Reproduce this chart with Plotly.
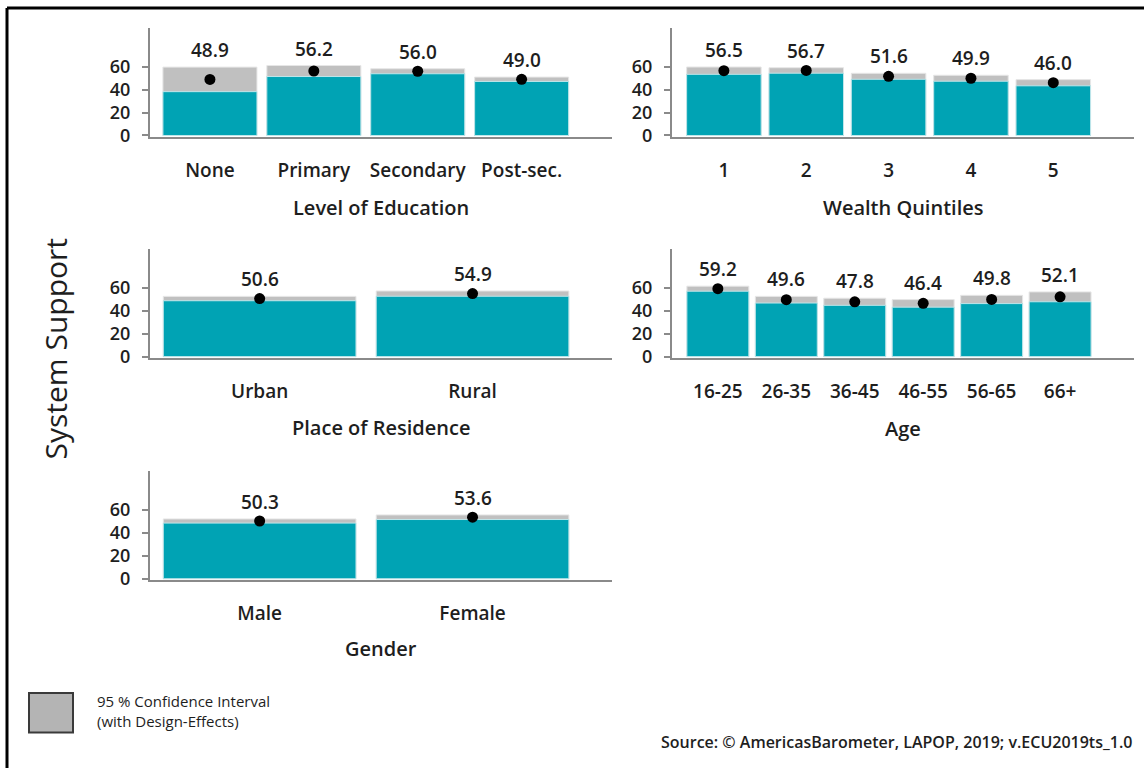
import plotly.graph_objects as go

W, H = 1144, 778

# ---------------- data ----------------
edu_cats = ["None", "Primary", "Secondary", "Post-sec."]
edu_mean = [48.9, 56.2, 56.0, 49.0]
edu_low = [38.2, 51.4, 53.8, 47.1]
edu_high = [59.6, 61.0, 58.2, 50.9]

wealth_cats = ["1", "2", "3", "4", "5"]
wealth_mean = [56.5, 56.7, 51.6, 49.9, 46.0]
wealth_low = [53.3, 54.3, 49.0, 47.3, 43.3]
wealth_high = [59.7, 59.1, 54.2, 52.5, 48.7]

res_cats = ["Urban", "Rural"]
res_mean = [50.6, 54.9]
res_low = [48.7, 52.6]
res_high = [52.5, 57.2]

age_cats = ["16-25", "26-35", "36-45", "46-55", "56-65", "66+"]
age_mean = [59.2, 49.6, 47.8, 46.4, 49.8, 52.1]
age_low = [57.0, 46.7, 44.7, 43.1, 46.2, 47.8]
age_high = [61.4, 52.5, 50.9, 49.7, 53.4, 56.4]

gen_cats = ["Male", "Female"]
gen_mean = [50.3, 53.6]
gen_low = [48.5, 51.6]
gen_high = [52.1, 55.6]

y_ticks = [0, 20, 40, 60]
titles = ["Level of Education", "Wealth Quintiles", "Place of Residence", "Age", "Gender"]

# ---------------- style ----------------
TEAL = "#00a3b4"
GRAY = "#c0c0c0"
AXIS = "#8a8a8a"
TXT = "#1e1e1e"
FONT = "Open Sans"

panels = [
    dict(cats=edu_cats, mean=edu_mean, low=edu_low, high=edu_high,
         px=(150, 612), py=(28, 139), xr=(-0.577, 3.87), title=titles[0], ty=210),
    dict(cats=wealth_cats, mean=wealth_mean, low=wealth_low, high=wealth_high,
         px=(672, 1134), py=(28, 139), xr=(-0.63, 4.98), title=titles[1], ty=210),
    dict(cats=res_cats, mean=res_mean, low=res_low, high=res_high,
         px=(150, 612), py=(252, 363), xr=(-0.515, 1.655), title=titles[2], ty=433),
    dict(cats=age_cats, mean=age_mean, low=age_low, high=age_high,
         px=(672, 1134), py=(252, 363), xr=(-0.67, 6.08), title=titles[3], ty=434),
    dict(cats=gen_cats, mean=gen_mean, low=gen_low, high=gen_high,
         px=(150, 612), py=(477, 588), xr=(-0.515, 1.655), title=titles[4], ty=657),
]

fig = go.Figure()
annotations = []
layout_axes = {}

for i, p in enumerate(panels, start=1):
    xa = "x" if i == 1 else f"x{i}"
    ya = "y" if i == 1 else f"y{i}"
    idx = list(range(len(p["cats"])))
    fig.add_trace(go.Bar(x=idx, y=p["high"], xaxis=xa, yaxis=ya,
                         marker=dict(color=GRAY, line=dict(color="#e6e6e6", width=1)),
                         showlegend=False, hoverinfo="skip"))
    fig.add_trace(go.Bar(x=idx, y=p["low"], xaxis=xa, yaxis=ya,
                         marker=dict(color=TEAL, line=dict(color="#bfe6ea", width=1)),
                         showlegend=False, hoverinfo="skip"))
    fig.add_trace(go.Scatter(x=idx, y=p["mean"], xaxis=xa, yaxis=ya, mode="markers",
                             marker=dict(color="black", size=11),
                             showlegend=False, hoverinfo="skip"))
    for j, (m, hi) in enumerate(zip(p["mean"], p["high"])):
        annotations.append(dict(x=j, y=hi, xref=xa, yref=ya, text=f"{m:.1f}",
                                showarrow=False, yanchor="bottom", yshift=2,
                                font=dict(family=FONT, size=19, color=TXT, weight=600)))
    x0, x1 = p["px"]
    y0, y1 = p["py"]
    xkey = "xaxis" if i == 1 else f"xaxis{i}"
    ykey = "yaxis" if i == 1 else f"yaxis{i}"
    layout_axes[xkey] = dict(
        domain=[x0 / W, x1 / W], anchor=ya, range=list(p["xr"]),
        tickmode="array", tickvals=idx, ticktext=p["cats"],
        showline=True, linecolor=AXIS, linewidth=2, showgrid=False, zeroline=False,
        ticks="outside", ticklen=15, tickcolor="rgba(0,0,0,0)",
        tickfont=dict(family=FONT, size=19, color=TXT, weight=600), fixedrange=True)
    layout_axes[ykey] = dict(
        domain=[1 - y1 / H, 1 - y0 / H], anchor=xa, range=[-1.5, 94],
        tickmode="array", tickvals=y_ticks,
        showline=True, linecolor=AXIS, linewidth=2, showgrid=False, zeroline=False,
        ticks="outside", ticklen=6, tickcolor=AXIS, tickwidth=1.5,
        ticklabelstandoff=8,
        tickfont=dict(family=FONT, size=18, color=TXT, weight=600), fixedrange=True)
    annotations.append(dict(x=(x0 + x1) / 2 / W, y=1 - p["ty"] / H, xref="paper", yref="paper",
                            text=p["title"], showarrow=False, xanchor="center", yanchor="middle",
                            font=dict(family=FONT, size=20, color=TXT, weight=600)))

# y title
annotations.append(dict(x=55 / W, y=1 - 354 / H, xref="paper", yref="paper",
                        text="System Support", textangle=-90, showarrow=False,
                        xanchor="center", yanchor="middle",
                        font=dict(family=FONT, size=30, color=TXT)))
# legend text
annotations.append(dict(x=95 / W, y=1 - 720 / H, xref="paper", yref="paper",
                        text="95 % Confidence Interval<br>(with Design-Effects)",
                        showarrow=False, xanchor="left", yanchor="middle", align="left",
                        font=dict(family=FONT, size=15, color=TXT)))
# source
annotations.append(dict(x=1134 / W, y=1 - 752 / H, xref="paper", yref="paper",
                        text="Source: © AmericasBarometer, LAPOP, 2019; v.ECU2019ts_1.0",
                        showarrow=False, xanchor="right", yanchor="middle",
                        font=dict(family=FONT, size=16, color=TXT, weight=600)))

shapes = [
    # legend swatch
    dict(type="rect", xref="paper", yref="paper", x0=29 / W, x1=73 / W,
         y0=1 - 742 / H, y1=1 - 702 / H, fillcolor="#b4b4b4",
         line=dict(color="#3a3a3a", width=2)),
    # frame (left and top)
    dict(type="line", xref="paper", yref="paper", x0=7 / W, x1=7 / W, y0=0, y1=1 - 8 / H,
         line=dict(color="black", width=3)),
    dict(type="line", xref="paper", yref="paper", x0=7 / W, x1=1, y0=1 - 8 / H, y1=1 - 8 / H,
         line=dict(color="black", width=3)),
]

fig.update_layout(
    width=W, height=H, margin=dict(l=0, r=0, t=0, b=0),
    paper_bgcolor="white", plot_bgcolor="white",
    barmode="overlay", bargap=0.095,
    annotations=annotations, shapes=shapes,
    font=dict(family=FONT, color=TXT),
    **layout_axes,
)

fig.write_html(
    "out.html", config={"displayModeBar": False},
    post_script=(
        "document.documentElement.style.overflow='hidden';"
        "document.body.style.margin='0';"
        "document.body.style.overflow='hidden';"
    ),
)
